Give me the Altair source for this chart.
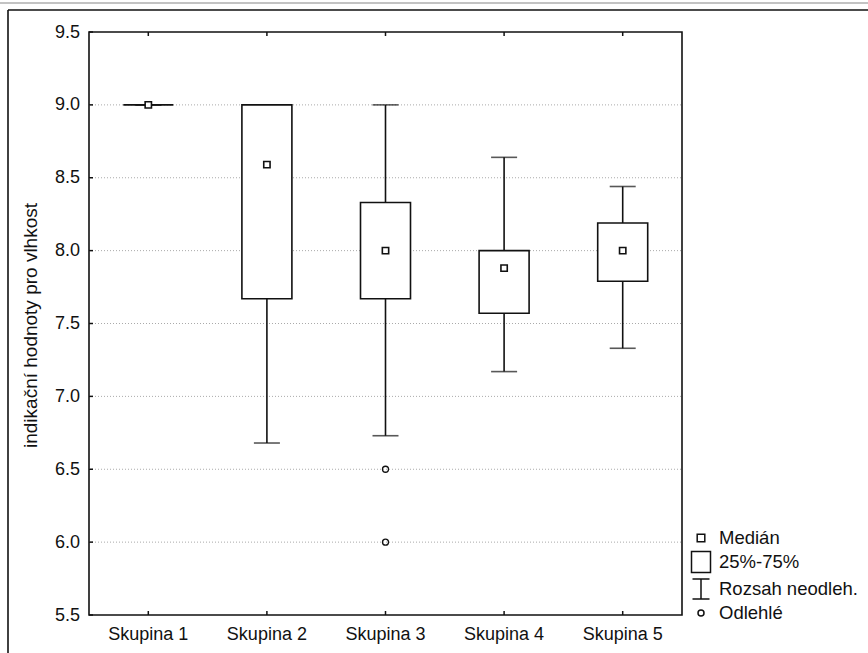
import altair as alt
import pandas as pd

# ---------------- data ----------------
categories = ["Skupina 1", "Skupina 2", "Skupina 3", "Skupina 4", "Skupina 5"]
medians = [9.0, 8.59, 8.0, 7.88, 8.0]
q1 = [9.0, 7.67, 7.67, 7.57, 7.79]
q3 = [9.0, 9.0, 8.33, 8.0, 8.19]
whisker_low = [9.0, 6.68, 6.73, 7.17, 7.33]
whisker_high = [9.0, 9.0, 9.0, 8.64, 8.44]
outlier_groups = ["Skupina 3", "Skupina 3"]
outlier_values = [6.5, 6.0]
y_ticks = [5.5, 6.0, 6.5, 7.0, 7.5, 8.0, 8.5, 9.0, 9.5]
grid_values = [6.0, 6.5, 7.0, 7.5, 8.0, 8.5, 9.0]
legend_labels = ["Medián", "25%-75%", "Rozsah neodleh.", "Odlehlé"]
y_title = "indikační hodnoty pro vlhkost"

FONT = "Liberation Sans"
INK = "#111111"
W, H = 593, 583

box_df = pd.DataFrame({
    "cat": categories, "median": medians, "q1": q1, "q3": q3,
    "lo": whisker_low, "hi": whisker_high,
})
out_df = pd.DataFrame({"cat": outlier_groups, "v": outlier_values})
grid_df = pd.DataFrame({"v": grid_values})
tick_df = pd.DataFrame({"v": y_ticks})
cat_df = pd.DataFrame({"cat": categories})
leg_df = pd.DataFrame({"label": legend_labels})

xscale = alt.Scale(domain=categories, paddingInner=0, paddingOuter=0)
yscale = alt.Scale(domain=[5.5, 9.5], nice=False, zero=False)

X = alt.X("cat:N", scale=xscale, sort=categories,
          axis=alt.Axis(title=None, domain=False, ticks=False, tickSize=0,
                        labelFont=FONT, labelFontSize=18, labelColor=INK,
                        labelPadding=10, labelAngle=0, grid=False))

def Y(field):
    return alt.Y(f"{field}:Q", scale=yscale,
                 axis=alt.Axis(title=y_title, values=y_ticks, format=".1f",
                               domain=False, ticks=False, tickSize=0, grid=False,
                               labelFont=FONT, labelFontSize=18, labelColor=INK,
                               labelPadding=9.5, titleFont=FONT, titleFontSize=19,
                               titleFontWeight="normal", titleColor=INK,
                               titleAngle=270, titleAlign="center",
                               titleBaseline="middle", titleX=-59, titleY=293))

# grid lines
grid = alt.Chart(grid_df).mark_rule(color="#aaaaaa", strokeWidth=1, strokeDash=[1, 2]).encode(
    y=Y("v"), x=alt.value(0), x2=alt.value(W))

# inward axis ticks
ticks_bottom = alt.Chart(cat_df).mark_rule(color=INK, strokeWidth=1.5).encode(
    x=X, y=alt.value(H), y2=alt.value(H - 4))
ticks_top = alt.Chart(cat_df).mark_rule(color=INK, strokeWidth=1.5).encode(
    x=X, y=alt.value(0), y2=alt.value(4))
ticks_left = alt.Chart(tick_df).mark_rule(color=INK, strokeWidth=1.5).encode(
    y=Y("v"), x=alt.value(0), x2=alt.value(4))

# whiskers
whisk = alt.Chart(box_df).mark_rule(color=INK, strokeWidth=1.6).encode(
    x=X, y=Y("lo"), y2="hi:Q")
cap_lo = alt.Chart(box_df).mark_tick(color=INK, size=26, thickness=1.6, orient="horizontal").encode(
    x=X, y=Y("lo"))
cap_hi = alt.Chart(box_df).mark_tick(color=INK, size=26, thickness=1.6, orient="horizontal").encode(
    x=X, y=Y("hi"))

# boxes
boxes = alt.Chart(box_df).mark_bar(width=50, fill="white", stroke=INK, strokeWidth=1.6).encode(
    x=X, y=Y("q1"), y2="q3:Q")

# medians
med = alt.Chart(box_df).mark_square(size=40, fill="white", stroke=INK, strokeWidth=1.6, opacity=1).encode(
    x=X, y=Y("median"))

# outliers
outl = alt.Chart(out_df).mark_point(shape="circle", size=36, filled=False, color=INK,
                                     strokeWidth=1.3, opacity=1).encode(
    x=X, y=Y("v"))

# legend (custom symbols)
shape_paths = [
    "M-0.38,-0.38H0.38V0.38H-0.38Z",
    "M-0.95,-1.05H0.95V1.05H-0.95Z",
    "M-0.85,-1H0.85M0,-1V1M-0.85,1H0.85",
    "M0.3,0A0.3,0.3,0,1,1,-0.3,0A0.3,0.3,0,1,1,0.3,0Z",
]
legend_layer = alt.Chart(leg_df).mark_point(filled=False, color=INK, opacity=0).encode(
    x=alt.value(0), y=alt.value(0),
    shape=alt.Shape("label:N", sort=legend_labels,
                    scale=alt.Scale(domain=legend_labels, range=shape_paths),
                    legend=alt.Legend(title=None, orient="none", legendX=601, legendY=495,
                                      padding=0, symbolSize=400, symbolOpacity=1,
                                      symbolStrokeColor=INK, symbolStrokeWidth=1.5,
                                      symbolFillColor="transparent",
                                      labelFont=FONT, labelFontSize=18.5, labelColor=INK,
                                      labelOffset=7, labelLimit=0, rowPadding=0)))

# outer frame decoration
frame_df = pd.DataFrame({"k": [0]})
frame_top = alt.Chart(frame_df).mark_rule(color=INK, strokeWidth=1.6).encode(
    x=alt.value(-81), x2=alt.value(868 - 89), y=alt.value(-22))
frame_left = alt.Chart(frame_df).mark_rule(color=INK, strokeWidth=1.6).encode(
    x=alt.value(-81), y=alt.value(-22), y2=alt.value(653 - 32))
frame_gray = alt.Chart(frame_df).mark_rule(color="#888888", strokeWidth=1.2).encode(
    x=alt.value(-89), x2=alt.value(868 - 89), y=alt.value(-29))

chart = alt.layer(
    grid, ticks_bottom, ticks_top, ticks_left,
    whisk, cap_lo, cap_hi, boxes, med, outl, legend_layer,
    frame_top, frame_left, frame_gray,
).properties(
    width=W, height=H,
    autosize=alt.AutoSizeParams(type="none"),
    padding={"left": 89, "top": 32, "right": 868 - 89 - W, "bottom": 653 - 32 - H},
    background="white",
).configure_view(stroke=INK, strokeWidth=1.6)

chart.save("out.html", embed_options={"renderer": "svg", "actions": False})
